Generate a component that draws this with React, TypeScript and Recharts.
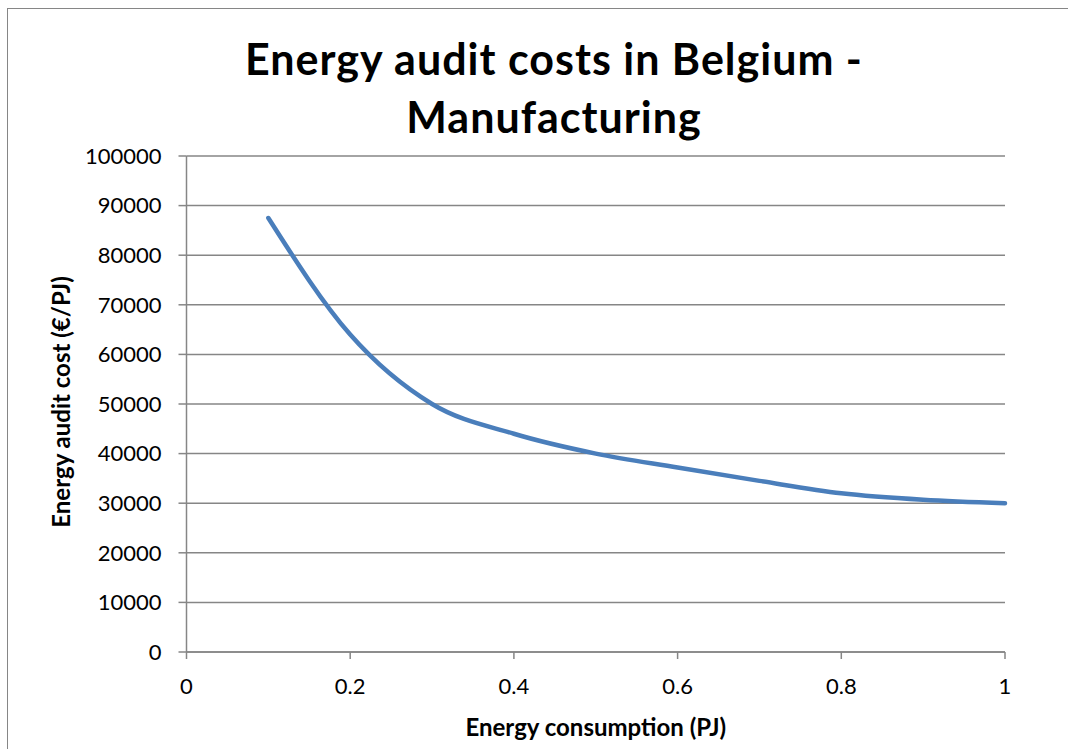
import React from 'react';
import { LineChart, Line, XAxis, YAxis, CartesianGrid, Label } from 'recharts';

const consumption = [0.1, 0.2, 0.3, 0.4, 0.5, 0.6, 0.7, 0.8, 0.9, 1.0];
const auditCost = [87500, 64000, 50000, 44000, 40000, 37200, 34500, 32000, 30700, 30000];
const xTicks = [0, 0.2, 0.4, 0.6, 0.8, 1];
const yTicks = [0, 10000, 20000, 30000, 40000, 50000, 60000, 70000, 80000, 90000, 100000];

const data = consumption.map((x, i) => ({ x, y: auditCost[i] }));

const FONT = 'Lato, "Open Sans", sans-serif';
const GRAY = '#868686';

export default function App() {
  return (
    <div
      style={{
        position: 'absolute',
        left: 7,
        top: 8,
        width: 1060,
        height: 740,
        borderLeft: `1px solid ${GRAY}`,
        borderTop: `1px solid ${GRAY}`,
        fontFamily: FONT,
        background: '#fff',
      }}
    >
      <div
        style={{
          position: 'absolute',
          left: 196,
          top: 21,
          width: 700,
          textAlign: 'center',
          fontSize: 43,
          fontWeight: 700,
          letterSpacing: 1,
          lineHeight: '58px',
          color: '#000',
        }}
      >
        Energy audit costs in Belgium -<br />Manufacturing
      </div>
      <LineChart
        width={1060}
        height={740}
        data={data}
        margin={{ top: 147, right: 63, left: 0, bottom: 0 }}
      >
        <CartesianGrid vertical={false} stroke={GRAY} strokeWidth={1.5} />
        <XAxis
          dataKey="x"
          type="number"
          domain={[0, 1]}
          ticks={xTicks}
          height={97}
          stroke={GRAY}
          strokeWidth={1.5}
          tickSize={7}
          tickMargin={19}
          tick={{ fill: '#000', fontSize: 22, fontFamily: FONT }}
          tickFormatter={(v: number) => String(v)}
        >
          <Label
            value="Energy consumption (PJ)"
            position="insideBottom"
            offset={13}
            style={{ fill: '#000', fontSize: 24, fontWeight: 700, fontFamily: FONT }}
          />
        </XAxis>
        <YAxis
          type="number"
          domain={[0, 100000]}
          ticks={yTicks}
          width={178.5}
          stroke={GRAY}
          strokeWidth={1.5}
          tickSize={8}
          tickMargin={17}
          interval={0}
          tick={{ fill: '#000', fontSize: 22, fontFamily: FONT }}
        >
          <Label
            content={(props: any) => {
              const vb = props.viewBox || {};
              const cx = (vb.x || 0) + 52;
              const cy = (vb.y || 0) + (vb.height || 0) / 2 - 2;
              return (
                <text
                  x={cx}
                  y={cy}
                  transform={`rotate(-90, ${cx}, ${cy})`}
                  textAnchor="middle"
                  dominantBaseline="central"
                  style={{ fill: '#000', fontSize: 24, fontWeight: 700, fontFamily: FONT }}
                >
                  Energy audit cost (€/PJ)
                </text>
              );
            }}
          />
        </YAxis>
        <Line
          type="monotone"
          dataKey="y"
          stroke="#4A7EBB"
          strokeWidth={4.5}
          dot={false}
          strokeLinecap="round"
          isAnimationActive={false}
        />
      </LineChart>
    </div>
  );
}
